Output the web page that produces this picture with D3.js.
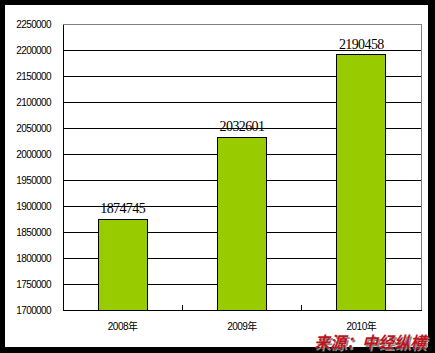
<!DOCTYPE html>
<html>
<head>
<meta charset="utf-8">
<script src="https://cdn.jsdelivr.net/npm/d3@7"></script>
<style>
  html, body { margin: 0; padding: 0; background: #000; }
  svg { display: block; }
</style>
</head>
<body>
<div id="chart"></div>
<script>
// Data
const years = ["2008年", "2009年", "2010年"];
const values = [1874745, 2032601, 2190458];
const yTicks = d3.range(1700000, 2250001, 50000);
const source = "来源：中经纵横";

const W = 435, H = 353;
const plot = { left: 63, right: 421, top: 24, bottom: 310 };

const svg = d3.select("#chart").append("svg")
  .attr("width", W).attr("height", H);

// black frame + white panel
svg.append("rect").attr("width", W).attr("height", H).attr("fill", "#000");
svg.append("rect").attr("x", 5).attr("y", 5).attr("width", 423).attr("height", 342).attr("fill", "#fff");

const x = d3.scaleBand().domain(years).range([plot.left, plot.right]).paddingInner(0).paddingOuter(0);
const y = d3.scaleLinear().domain([1700000, 2250000]).range([plot.bottom, plot.top]);

const g = svg.append("g");

// plot border (grey top/right)
g.append("rect")
  .attr("x", plot.left).attr("y", plot.top)
  .attr("width", plot.right - plot.left).attr("height", plot.bottom - plot.top)
  .attr("fill", "none").attr("stroke", "#808080").attr("stroke-width", 1)
  .attr("shape-rendering", "crispEdges");

// gridlines
g.append("g")
  .attr("transform", `translate(${plot.left},0)`)
  .call(d3.axisLeft(y).tickValues(yTicks.slice(1, -1)).tickSize(-(plot.right - plot.left)).tickFormat(""))
  .call(s => s.select(".domain").remove())
  .call(s => s.selectAll("line").attr("stroke", "#000").attr("shape-rendering", "crispEdges"));

// y axis
const yAxis = g.append("g")
  .attr("transform", `translate(${plot.left},0)`)
  .call(d3.axisLeft(y).tickValues(yTicks).tickSize(0).tickPadding(12).tickFormat(d3.format("d")));
yAxis.select(".domain").attr("stroke", "#000").attr("shape-rendering", "crispEdges");
yAxis.selectAll("text")
  .attr("font-family", "Liberation Sans, Arial, sans-serif")
  .attr("font-size", 10)
  .attr("letter-spacing", -0.6)
  .attr("fill", "#000");

// bars
const barW = 49;
g.selectAll("rect.bar").data(values).enter().append("rect")
  .attr("class", "bar")
  .attr("x", (d, i) => x(years[i]) + x.bandwidth() / 2 - barW / 2)
  .attr("y", d => y(d))
  .attr("width", barW)
  .attr("height", d => plot.bottom - y(d))
  .attr("fill", "#99cc00")
  .attr("stroke", "#000")
  .attr("stroke-width", 1)
  .attr("shape-rendering", "crispEdges");

// x axis
const xAxis = g.append("g")
  .attr("transform", `translate(0,${plot.bottom})`)
  .call(d3.axisBottom(x).tickSize(0).tickPadding(13));
xAxis.select(".domain").attr("stroke", "#000").attr("shape-rendering", "crispEdges");
xAxis.selectAll("text")
  .attr("font-family", "Liberation Sans, 'Noto Sans CJK SC', sans-serif")
  .attr("font-size", 10)
  .attr("letter-spacing", -0.5)
  .attr("fill", "#000");

// category boundary ticks (pointing up)
g.selectAll("line.cat").data(years.slice(1)).enter().append("line")
  .attr("x1", d => x(d)).attr("x2", d => x(d))
  .attr("y1", plot.bottom).attr("y2", plot.bottom - 5)
  .attr("stroke", "#000").attr("shape-rendering", "crispEdges");

// value labels
g.selectAll("text.val").data(values).enter().append("text")
  .attr("x", (d, i) => x(years[i]) + x.bandwidth() / 2)
  .attr("y", d => y(d) - 6)
  .attr("text-anchor", "middle")
  .attr("font-family", "Liberation Serif, 'Times New Roman', serif")
  .attr("font-size", 14)
  .attr("letter-spacing", -0.6)
  .attr("fill", "#000")
  .text(d => d);

// source note
const src = svg.append("g").attr("transform", "translate(370,348)");
src.append("text")
  .attr("x", 1.5).attr("y", 1.5)
  .attr("text-anchor", "middle")
  .attr("font-family", "'Noto Sans CJK SC', sans-serif")
  .attr("font-size", 16).attr("font-weight", "bold").attr("font-style", "italic")
  .attr("fill", "#888")
  .text(source);
src.append("text")
  .attr("text-anchor", "middle")
  .attr("font-family", "'Noto Sans CJK SC', sans-serif")
  .attr("font-size", 16).attr("font-weight", "bold").attr("font-style", "italic")
  .attr("fill", "#c0141c")
  .text(source);
</script>
</body>
</html>
